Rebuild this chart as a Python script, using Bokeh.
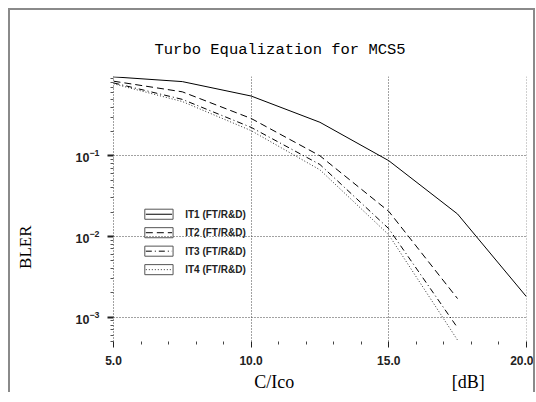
import math
from bokeh.plotting import figure
from bokeh.models import FixedTicker, NumeralTickFormatter, LogTickFormatter, Label, Range1d
from bokeh.embed import file_html
from bokeh.resources import INLINE

# ---- data ----
snr_db = [5.0, 7.5, 10.0, 12.5, 15.0, 17.5, 20.0]
bler_it1 = [0.95, 0.83, 0.55, 0.26, 0.087, 0.019, 0.0018]
bler_it2 = [0.84, 0.62, 0.29, 0.10, 0.0205, 0.0017]
bler_it3 = [0.80, 0.50, 0.225, 0.078, 0.0125, 0.00074]
bler_it4 = [0.78, 0.47, 0.205, 0.067, 0.0105, 0.00052]
series_labels = ["IT1 (FT/R&D)", "IT2 (FT/R&D)", "IT3 (FT/R&D)", "IT4 (FT/R&D)"]
x_major_ticks = [5, 10, 15, 20]
x_minor_ticks = [6, 7, 8, 9, 11, 12, 13, 14, 16, 17, 18, 19]
y_major_ticks = [1e-3, 1e-2, 1e-1]
title_text = "Turbo Equalization for MCS5"
x_label = "C/Ico"
x_unit = "[dB]"
y_label = "BLER"

NB = "\u00a0"

# ---- layout ----
BORDER = 2
W, H = 527, 384            # element size incl. borders (border-box)
CW, CH = W - 2 * BORDER, H - BORDER   # canvas size
ML, MR, MT, MB = 103, 11, 66, 53
X0, X1 = 5.0, 20.005
Y0, Y1 = 5e-4, 0.96
PAGE_OX, PAGE_OY = 8 + BORDER, 8 + BORDER  # page offset of canvas

p = figure(width=W, height=H, x_range=Range1d(X0, X1), y_range=Range1d(Y0, Y1),
           y_axis_type="log", output_backend="svg", toolbar_location=None,
           min_border_left=ML, min_border_right=MR,
           min_border_top=MT, min_border_bottom=MB)
p.styles = {"margin-left": "8px", "margin-top": "8px",
            "border-top": "2px solid #8a8a8a", "border-left": "2px solid #8a8a8a",
            "border-right": "2px solid #8a8a8a"}
p.outline_line_color = None
p.background_fill_color = "white"
p.border_fill_color = "white"

FW, FH = CW - ML - MR, CH - MT - MB
FL, FT = PAGE_OX + ML, PAGE_OY + MT
LY0, LY1 = math.log10(Y0), math.log10(Y1)

def px2x(px):
    return X0 + (px - FL) / FW * (X1 - X0)

def py2y(py):
    return 10 ** (LY1 - (py - FT) / FH * (LY1 - LY0))

# title
p.title.text = title_text
p.title.align = "left"
p.title.offset = 41
p.title.standoff = 35
p.title.text_font = "Liberation Mono"
p.title.text_font_style = "normal"
p.title.text_font_size = "15.5px"
p.title.text_color = "black"

# axes
xt = FixedTicker(ticks=x_major_ticks, minor_ticks=x_minor_ticks)
y_minor = [k * 10.0 ** e for e in range(-4, 0) for k in range(2, 10) if Y0 <= k * 10.0 ** e <= Y1]
yt = FixedTicker(ticks=y_major_ticks, minor_ticks=y_minor)

xa = p.xaxis[0]
xa.ticker = xt
xa.formatter = NumeralTickFormatter(format="0.0")
xa.axis_line_color = None
xa.major_tick_in = 0
xa.major_tick_out = 6
xa.minor_tick_in = 0
xa.minor_tick_out = 3
xa.major_tick_line_color = "#222"
xa.minor_tick_line_color = "#444"
xa.major_label_standoff = 8
xa.major_label_text_font = "Liberation Sans"
xa.major_label_text_font_style = "bold"
xa.major_label_text_font_size = "12px"
xa.major_label_text_color = "#222"
xa.axis_label = NB * 22 + x_label + NB * 35 + x_unit
xa.axis_label_standoff = 4
xa.axis_label_text_font = "Liberation Serif"
xa.axis_label_text_font_style = "normal"
xa.axis_label_text_font_size = "18px"
xa.axis_label_text_color = "black"

ya = p.yaxis[0]
ya.ticker = yt
ya.formatter = LogTickFormatter()
ya.axis_line_color = "#444"
ya.axis_line_dash = "1 2"
ya.major_tick_in = 0
ya.major_tick_out = 6
ya.minor_tick_in = 0
ya.minor_tick_out = 3
ya.major_tick_line_color = "#222"
ya.major_tick_line_width = 2
ya.minor_tick_line_color = "#555"
ya.major_label_standoff = 8
ya.major_label_text_font = "Liberation Sans"
ya.major_label_text_font_style = "bold"
ya.major_label_text_font_size = "12.5px"
ya.major_label_text_color = "#222"
ya.axis_label = y_label + NB * 18
ya.axis_label_standoff = 38
ya.axis_label_text_font = "Liberation Serif"
ya.axis_label_text_font_style = "normal"
ya.axis_label_text_font_size = "17px"
ya.axis_label_text_color = "black"

p.xgrid.ticker = xt
p.ygrid.ticker = yt
for g in (p.xgrid[0], p.ygrid[0]):
    g.grid_line_color = "#444"
    g.grid_line_dash = "1 2"
    g.grid_line_width = 1

# curves
series = [bler_it1, bler_it2, bler_it3, bler_it4]
dashes = ["solid", "7 4", "6 3 1 3", "1 2"]
colors = ["black", "black", "black", "#333"]
for vals, dash, col in zip(series, dashes, colors):
    p.line(snr_db[:len(vals)], vals, line_color=col, line_width=1, line_dash=dash)

# legend (drawn manually: boxed line samples)
for i, (lab, dash, col) in enumerate(zip(series_labels, dashes, colors)):
    cy = 212.7 + i * 18.33
    p.quad(left=[px2x(144)], right=[px2x(172)], top=[py2y(cy - 5)], bottom=[py2y(cy + 5)],
           fill_color=None, line_color="#555", line_width=1)
    p.segment(x0=[px2x(145)], x1=[px2x(171)], y0=[py2y(cy)], y1=[py2y(cy)],
              line_color=col, line_width=1, line_dash=dash)
    p.add_layout(Label(x=px2x(184), y=py2y(cy), text=lab, text_align="left",
                       text_baseline="middle", text_font="Liberation Sans",
                       text_font_style="bold", text_font_size="10px", text_color="#222"))

open("out.html", "w").write(file_html(p, INLINE))
